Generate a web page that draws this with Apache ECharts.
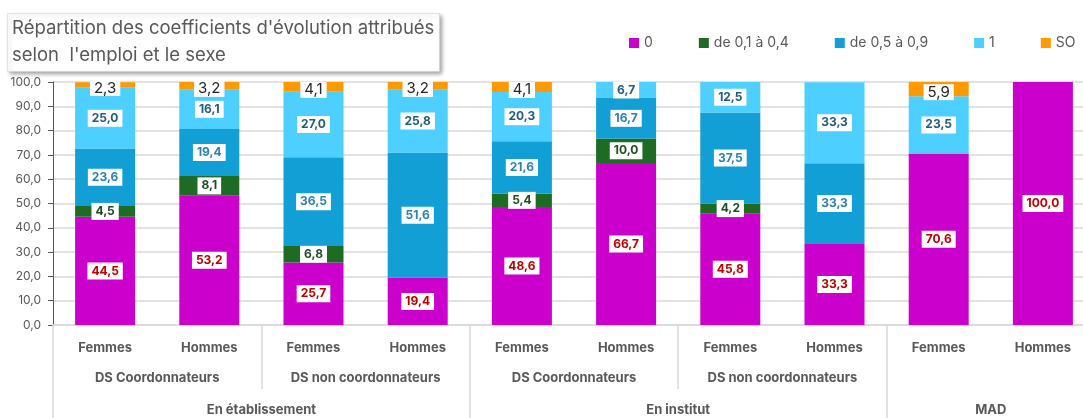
<!DOCTYPE html>
<html lang="fr">
  <head>
    <meta charset="UTF-8" />
    <title>Coefficients d'évolution</title>
    <style>
      body {
        margin: 0;
        background: #fff;
      }
      #chart {
        width: 1083px;
        height: 418px;
      }
    </style>
    <script src="https://cdn.jsdelivr.net/npm/echarts@6/dist/echarts.min.js"></script>
  </head>
  <body>
    <div id="chart"></div>
    <script>
      // niveaux de l'axe : sexe / emploi / lieu
      const sexes = ["Femmes", "Hommes", "Femmes", "Hommes", "Femmes", "Hommes", "Femmes", "Hommes", "Femmes", "Hommes"];
      const emplois = ["DS Coordonnateurs", "DS non coordonnateurs", "DS Coordonnateurs", "DS non coordonnateurs", ""];
      const emploiSpans = [2, 2, 2, 2, 2];
      const lieux = ["En établissement", "En institut", "MAD"];
      const lieuSpans = [4, 4, 2];

      // valeurs en %
      const seriesNames = ["0", "de 0,1 à 0,4", "de 0,5 à 0,9", "1", "SO"];
      const coef0 = [44.5, 53.2, 25.7, 19.4, 48.6, 66.7, 45.8, 33.3, 70.6, 100.0];
      const coef01a04 = [4.5, 8.1, 6.8, null, 5.4, 10.0, 4.2, null, null, null];
      const coef05a09 = [23.6, 19.4, 36.5, 51.6, 21.6, 16.7, 37.5, 33.3, null, null];
      const coef1 = [25.0, 16.1, 27.0, 25.8, 20.3, 6.7, 12.5, 33.3, 23.5, null];
      const coefSO = [2.3, 3.2, 4.1, 3.2, 4.1, null, null, null, 5.9, null];

      const colors = ["#cc00cc", "#1e6b24", "#119fd5", "#4dcfff", "#ff9900"];
      const labelColors = ["#c00000", "#1f4e20", "#2b82b5", "#215e80", "#262626"];

      const grey = "#595959";
      const lineGrey = "#d9d9d9";
      const font = "Inter";

      function spansToMarks(spans) {
        let pos = 0;
        const edges = [0];
        const centers = [];
        spans.forEach((s) => {
          centers.push(pos + s / 2);
          pos += s;
          edges.push(pos);
        });
        return { edges, centers };
      }
      const emploiMarks = spansToMarks(emploiSpans);
      const lieuMarks = spansToMarks(lieuSpans);

      const fmt = (v) => v.toFixed(1).replace(".", ",");

      function groupAxis(labels, marks, tickLen, margin) {
        return {
          type: "value",
          position: "bottom",
          min: 0,
          max: sexes.length,
          axisLine: { show: false },
          splitLine: { show: false },
          axisTick: {
            show: true,
            customValues: marks.edges.slice(0, -1),
            length: tickLen,
            lineStyle: { color: lineGrey, width: 1.5 },
          },
          axisLabel: {
            customValues: marks.centers.filter((c, i) => labels[i]),
            formatter: (v) => labels[marks.centers.indexOf(v)] || "",
            margin: margin,
            color: grey,
            fontFamily: font,
            fontSize: 13,
            fontWeight: "bold",
          },
        };
      }

      const chart = echarts.init(document.getElementById("chart"));
      chart.setOption({
        animation: false,
        color: colors,
        title: {
          text: "Répartition des coefficients d'évolution attribués\nselon  l'emploi et le sexe",
          left: 7,
          top: 13,
          padding: [2, 5, 3, 5],
          backgroundColor: "#fff",
          borderColor: "#d0d0d0",
          borderWidth: 0.5,
          shadowBlur: 4,
          shadowColor: "rgba(0,0,0,0.35)",
          shadowOffsetX: 2,
          shadowOffsetY: 2,
          textStyle: {
            fontFamily: font,
            fontSize: 18.5,
            fontWeight: "normal",
            lineHeight: 27,
            color: grey,
          },
        },
        legend: {
          left: 624,
          top: 31,
          width: 458,
          icon: "rect",
          itemWidth: 10,
          itemHeight: 10,
          itemGap: 46,
          textStyle: { fontFamily: font, fontSize: 14, color: grey },
        },
        grid: {
          left: 53,
          right: -12,
          top: 82,
          bottom: 93,
          outerBoundsMode: "none",
        },
        xAxis: [
          {
            type: "category",
            data: sexes,
            axisLine: { lineStyle: { color: lineGrey, width: 1.5 } },
            axisTick: { show: false },
            axisLabel: {
              margin: 17,
              color: grey,
              fontFamily: font,
              fontSize: 13,
              fontWeight: "bold",
            },
          },
          groupAxis(emplois, emploiMarks, 64, 47),
          groupAxis(lieux, lieuMarks, 100, 79),
        ],
        yAxis: {
          type: "value",
          min: 0,
          max: 100,
          interval: 10,
          axisLabel: {
            formatter: fmt,
            margin: 12,
            color: grey,
            fontFamily: font,
            fontSize: 12,
          },
          splitLine: { lineStyle: { color: lineGrey, width: 1.5 } },
        },
        series: [coef0, coef01a04, coef05a09, coef1, coefSO].map((data, i) => ({
          name: seriesNames[i],
          type: "bar",
          stack: "total",
          barWidth: 60,
          data: data,
          label: {
            show: true,
            position: "inside",
            formatter: (p) => fmt(p.value),
            backgroundColor: "#fff",
            padding: i === 4 ? [1, 4, 0, 4] : [3, 4, 2, 4],
            color: labelColors[i],
            fontFamily: font,
            fontSize: i === 4 ? 15 : 12,
            fontWeight: i === 4 ? "normal" : "bold",
            offset: i === 4 ? [0, 3] : [0, 0],
          },
        })),
      });
    </script>
  </body>
</html>
